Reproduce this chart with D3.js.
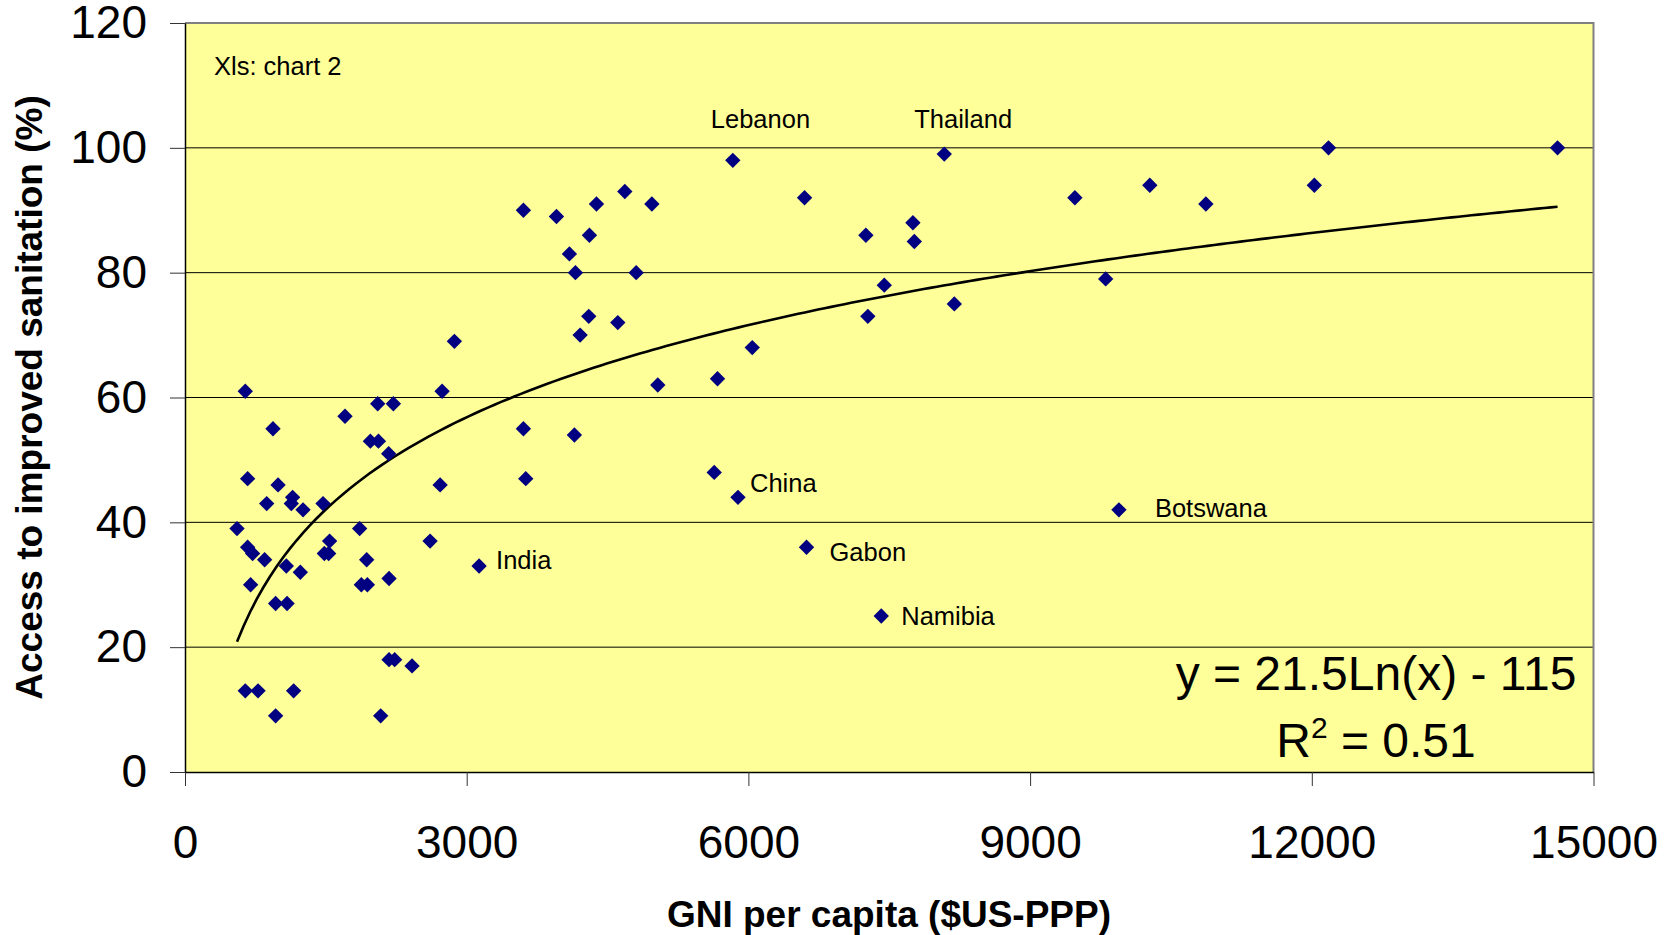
<!DOCTYPE html>
<html>
<head>
<meta charset="utf-8">
<script src="https://cdn.jsdelivr.net/npm/d3@7"></script>
<style>
  body { margin: 0; background: #fff; }
  text { font-family: "Liberation Sans", Arial, sans-serif; fill: #000; }
</style>
</head>
<body>
<svg width="1664" height="935"></svg>
<script>
// GNI per capita ($US-PPP) and access to improved sanitation (%), unlabelled countries
var gni = [554, 642, 667, 667, 720, 699, 642, 778, 870, 937, 965, 965, 848, 991, 1087,
  1079, 1132, 1146, 1157, 1228, 1257, 1470, 1484, 1530, 1540, 1704, 1860, 1878, 1935, 1942,
  1974, 2060, 2052, 2219, 2169, 2173, 2173, 2233, 2418, 2084, 2610, 2717, 2738, 2869,
  3604, 3604, 3629, 3956, 4094, 4158, 4147, 4208, 4300, 4307, 4382, 4609, 4684, 4805, 4972,
  5035, 5636, 5671, 6041, 6598, 7251, 7272, 7447, 7752, 7767, 8193, 9477, 9805,
  10275, 10872, 12027, 12178, 14617];
var access = [39, 61, 47, 36, 35, 30, 13, 13, 43, 55, 27, 9, 34, 46, 27,
  33, 43, 44, 13, 32, 42, 43, 35, 35, 37, 57, 39, 30, 34, 30,
  53, 53, 59, 59, 51, 31, 18, 18, 17, 9, 37, 46, 61, 69,
  90, 55, 47, 89, 83, 80, 54, 70, 73, 86, 91, 72, 93, 80, 91,
  62, 48, 63, 68, 92, 86, 73, 78, 88, 85, 75, 92, 79,
  94, 91, 94, 100, 100];

// labelled countries
var namedCountry = ["India", "Lebanon", "China", "Gabon", "Namibia", "Thailand", "Botswana"];
var namedGni = [3132, 5834, 5889, 6619, 7415, 8086, 9946];
var namedAccess = [33, 98, 44, 36, 25, 99, 42];

// logarithmic trendline y = a*ln(x) + b (the label shows rounded values)
var trendCoef = [21.3, -113.7];

var xTicks = [0, 3000, 6000, 9000, 12000, 15000];
var yTicks = [0, 20, 40, 60, 80, 100, 120];

var svg = d3.select("svg");

var x = d3.scaleLinear().domain([0, 15000]).range([185, 1593.5]);
var y = d3.scaleLinear().domain([0, 120]).range([772, 23]);

// plot area
svg.append("rect")
    .attr("x", x(0)).attr("y", y(120))
    .attr("width", x(15000) - x(0)).attr("height", y(0) - y(120))
    .attr("fill", "#ffff99");

// gridlines
svg.append("g")
  .selectAll("line")
  .data(yTicks.filter(function(d) { return d > 0 && d < 120; }))
  .enter()
  .append("line")
    .attr("x1", x(0)).attr("x2", x(15000))
    .attr("y1", function(d) { return y(d); })
    .attr("y2", function(d) { return y(d); })
    .attr("stroke", "#000")
    .attr("stroke-width", 1);

// top and right border
svg.append("path")
    .attr("d", "M" + x(0) + "," + y(120) + "H" + x(15000) + "V" + y(0))
    .attr("fill", "none")
    .attr("stroke", "#808080")
    .attr("stroke-width", 2);

// axes
var xAxis = svg.append("g")
    .attr("transform", "translate(0," + y(0) + ")")
    .call(d3.axisBottom(x).tickValues(xTicks).tickSize(14).tickSizeOuter(0).tickPadding(39).tickFormat(d3.format("d")));
var yAxis = svg.append("g")
    .attr("transform", "translate(" + x(0) + ",0)")
    .call(d3.axisLeft(y).tickValues(yTicks).tickSize(15).tickSizeOuter(0).tickPadding(23));

[xAxis, yAxis].forEach(function(g) {
  g.select(".domain").attr("stroke", "#000").attr("stroke-width", 1.5);
  g.selectAll(".tick line").attr("stroke", "#333").attr("stroke-width", 1);
  g.selectAll(".tick text")
    .style("font-family", "'Liberation Sans', Arial, sans-serif")
    .style("font-size", "46px")
    .attr("fill", "#000");
});

// trendline
var allGni = gni.concat(namedGni);
var lo = d3.min(allGni), hi = d3.max(allGni);
var xs = d3.range(0, 201).map(function(i) { return lo + (hi - lo) * i / 200; });
svg.append("path")
    .datum(xs)
    .attr("fill", "none")
    .attr("stroke", "#000")
    .attr("stroke-width", 2.6)
    .attr("d", d3.line()
      .x(function(d) { return x(d); })
      .y(function(d) { return y(trendCoef[0] * Math.log(d) + trendCoef[1]); }));

// points
var diamond = d3.symbol().type(d3.symbolSquare).size(118);
var pts = gni.map(function(g, i) { return [g, access[i]]; })
  .concat(namedGni.map(function(g, i) { return [g, namedAccess[i]]; }));
svg.append("g")
  .selectAll("path")
  .data(pts)
  .enter()
  .append("path")
    .attr("d", diamond)
    .attr("transform", function(d) { return "translate(" + x(d[0]) + "," + y(d[1]) + ") rotate(45)"; })
    .attr("fill", "#000080");

// country labels
var labelOffset = {
  India: [17, 3], Lebanon: [-22, -32], China: [12, -5], Gabon: [23, 14],
  Namibia: [20, 9], Thailand: [-30, -26], Botswana: [36, 7]
};
svg.append("g")
  .selectAll("text")
  .data(namedCountry)
  .enter()
  .append("text")
    .attr("x", function(d, i) { return x(namedGni[i]) + labelOffset[d][0]; })
    .attr("y", function(d, i) { return y(namedAccess[i]) + labelOffset[d][1]; })
    .style("font-size", "25.5px")
    .text(function(d) { return d; });

svg.append("text")
    .attr("x", 214).attr("y", 75)
    .style("font-size", "25.5px")
    .text("Xls: chart 2");

// trendline equation
svg.append("text")
    .attr("x", 1376).attr("y", 690)
    .attr("text-anchor", "middle")
    .style("font-size", "48px")
    .text("y = 21.5Ln(x) - 115");
var r2 = svg.append("text")
    .attr("x", 1376).attr("y", 757)
    .attr("text-anchor", "middle")
    .style("font-size", "48px");
r2.append("tspan").text("R");
r2.append("tspan").attr("dy", -19).style("font-size", "30px").text("2");
r2.append("tspan").attr("dy", 19).text(" = 0.51");

// axis titles
svg.append("text")
    .attr("x", 889).attr("y", 927)
    .attr("text-anchor", "middle")
    .style("font-size", "37px").style("font-weight", "bold")
    .text("GNI per capita ($US-PPP)");
svg.append("text")
    .attr("transform", "translate(42," + ((y(0) + y(120)) / 2) + ") rotate(-90)")
    .attr("text-anchor", "middle")
    .style("font-size", "37px").style("font-weight", "bold")
    .text("Access to improved sanitation (%)");
</script>
</body>
</html>
